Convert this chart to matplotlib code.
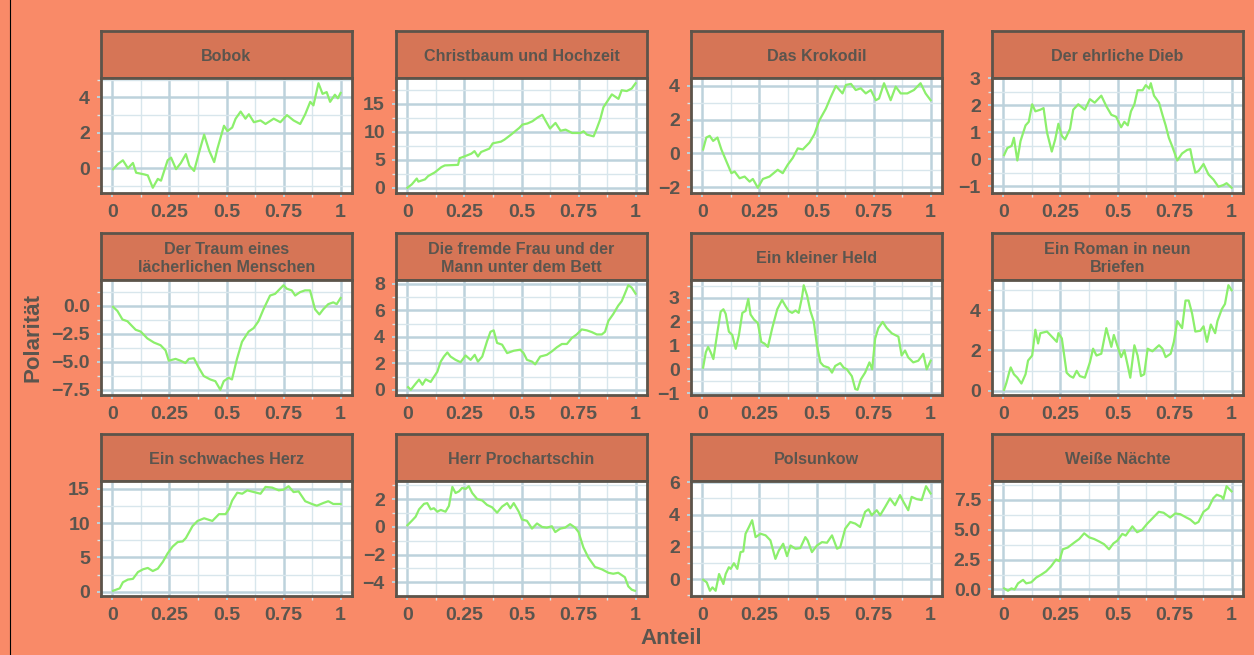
import matplotlib
matplotlib.use("Agg")
import matplotlib.pyplot as plt
from matplotlib.ticker import FixedLocator, AutoMinorLocator
from matplotlib.lines import Line2D

# Werktitel (Facetten)
titles = [
    "Bobok", "Christbaum und Hochzeit", "Das Krokodil", "Der ehrliche Dieb",
    "Der Traum eines\nlächerlichen Menschen", "Die fremde Frau und der\nMann unter dem Bett",
    "Ein kleiner Held", "Ein Roman in neun\nBriefen",
    "Ein schwaches Herz", "Herr Prochartschin", "Polsunkow", "Weiße Nächte",
]

# Anteil (x) und Polarität (y)
bobok_x = [0.003, 0.025, 0.046, 0.068, 0.09, 0.104, 0.141, 0.155, 0.177, 0.199, 0.213, 0.242, 0.257,
           0.279, 0.3, 0.322, 0.337, 0.358, 0.38, 0.402, 0.424, 0.446, 0.46, 0.489, 0.504, 0.525, 0.54,
           0.562, 0.583, 0.598, 0.62, 0.649, 0.671, 0.707, 0.736, 0.765, 0.794, 0.823, 0.845, 0.867,
           0.881, 0.903, 0.921, 0.939, 0.954, 0.975, 0.988, 1.0]
bobok_y = [-0.05, 0.25, 0.45, 0.0, 0.3, -0.25, -0.35, -0.4, -1.1, -0.6, -0.7, 0.45, 0.6, -0.05, 0.3,
           0.8, 0.15, -0.15, 0.9, 1.9, 1.0, 0.35, 1.1, 2.4, 2.1, 2.3, 2.8, 3.2, 2.8, 3.05, 2.6, 2.7,
           2.5, 2.8, 2.6, 3.0, 2.7, 2.5, 3.05, 3.75, 3.55, 4.8, 4.2, 4.3, 3.75, 4.15, 3.95, 4.25]

christbaum_x = [0.0, 0.019, 0.041, 0.048, 0.077, 0.091, 0.12, 0.149, 0.164, 0.222, 0.229, 0.243, 0.28,
                0.294, 0.309, 0.323, 0.359, 0.374, 0.41, 0.425, 0.454, 0.49, 0.504, 0.526, 0.548, 0.57,
                0.591, 0.606, 0.625, 0.649, 0.671, 0.693, 0.722, 0.758, 0.772, 0.787, 0.816, 0.83,
                0.845, 0.859, 0.896, 0.925, 0.939, 0.961, 0.983, 1.0]
christbaum_y = [0.0, 0.6, 1.65, 1.1, 1.5, 2.1, 2.75, 3.7, 4.0, 4.1, 5.3, 5.5, 6.1, 6.55, 5.6, 6.4,
                7.0, 7.95, 8.25, 8.6, 9.5, 10.7, 11.3, 11.5, 11.9, 12.55, 13.05, 11.95, 10.6, 11.6,
                10.2, 10.4, 9.8, 9.8, 10.1, 9.5, 9.2, 10.6, 12.25, 14.4, 16.7, 15.9, 17.45, 17.3,
                17.75, 18.7]

krokodil_x = [0.003, 0.017, 0.032, 0.047, 0.066, 0.083, 0.105, 0.127, 0.141, 0.163, 0.185, 0.207,
              0.221, 0.243, 0.265, 0.294, 0.33, 0.352, 0.374, 0.396, 0.418, 0.44, 0.469, 0.491, 0.512,
              0.541, 0.563, 0.585, 0.614, 0.629, 0.651, 0.672, 0.694, 0.716, 0.738, 0.76, 0.774,
              0.796, 0.825, 0.847, 0.869, 0.898, 0.927, 0.956, 0.978, 1.0]
krokodil_y = [0.24, 0.94, 1.04, 0.74, 0.94, 0.24, -0.46, -1.16, -1.06, -1.46, -1.36, -1.66, -1.5,
              -2.02, -1.5, -1.36, -0.96, -1.16, -0.66, -0.26, 0.3, 0.24, 0.64, 1.14, 1.94, 2.64, 3.34,
              3.98, 3.54, 4.04, 4.1, 3.74, 3.84, 3.54, 3.74, 3.14, 3.24, 4.14, 3.14, 3.94, 3.54, 3.54,
              3.74, 4.14, 3.54, 3.14]

dieb_x = [0.003, 0.017, 0.036, 0.046, 0.061, 0.075, 0.097, 0.111, 0.126, 0.14, 0.162, 0.176, 0.191,
          0.212, 0.227, 0.241, 0.256, 0.27, 0.292, 0.306, 0.328, 0.357, 0.379, 0.4, 0.429, 0.451, 0.473,
          0.494, 0.516, 0.53, 0.545, 0.559, 0.574, 0.588, 0.61, 0.624, 0.639, 0.646, 0.66, 0.682,
          0.697, 0.711, 0.725, 0.74, 0.762, 0.783, 0.805, 0.819, 0.827, 0.841, 0.855, 0.877, 0.899,
          0.921, 0.942, 0.964, 0.978, 1.0]
dieb_y = [0.16, 0.42, 0.5, 0.8, -0.04, 0.68, 1.26, 1.39, 2.04, 1.78, 1.84, 1.9, 1.0, 0.29, 0.74, 1.32,
          0.87, 0.74, 1.13, 1.84, 2.04, 1.84, 2.23, 2.1, 2.36, 1.97, 1.65, 1.58, 1.19, 1.39, 1.26,
          1.78, 2.04, 2.56, 2.56, 2.75, 2.62, 2.82, 2.36, 2.1, 1.65, 1.26, 0.8, 0.48, -0.04, 0.22,
          0.35, 0.38, 0.03, -0.49, -0.43, -0.17, -0.56, -0.75, -1.01, -0.95, -0.88, -1.05]

traum_x = [0.003, 0.022, 0.044, 0.066, 0.08, 0.102, 0.124, 0.153, 0.182, 0.211, 0.233, 0.247, 0.277,
           0.298, 0.32, 0.335, 0.357, 0.378, 0.4, 0.429, 0.451, 0.473, 0.488, 0.509, 0.524, 0.546,
           0.568, 0.597, 0.619, 0.64, 0.662, 0.691, 0.713, 0.735, 0.75, 0.764, 0.786, 0.801, 0.822,
           0.844, 0.866, 0.888, 0.907, 0.924, 0.946, 0.968, 0.983, 1.0]
traum_y = [-0.09, -0.46, -1.22, -1.38, -1.68, -2.14, -2.3, -2.91, -3.28, -3.52, -3.98, -4.9, -4.74,
           -4.9, -5.11, -4.74, -4.68, -5.51, -6.27, -6.58, -6.73, -7.5, -6.73, -6.43, -6.58, -4.74,
           -3.21, -2.3, -1.99, -1.38, -0.31, 0.92, 1.07, 1.53, 1.84, 1.53, 1.38, 0.92, 1.22, 1.38,
           1.38, -0.31, -0.77, -0.31, 0.15, 0.31, 0.15, 0.7]

fremde_x = [0.003, 0.015, 0.036, 0.051, 0.066, 0.08, 0.102, 0.116, 0.131, 0.146, 0.16, 0.175, 0.189,
            0.211, 0.233, 0.255, 0.277, 0.295, 0.309, 0.328, 0.349, 0.364, 0.378, 0.393, 0.415, 0.437,
            0.466, 0.495, 0.509, 0.524, 0.546, 0.56, 0.582, 0.611, 0.633, 0.655, 0.677, 0.699, 0.721,
            0.742, 0.764, 0.786, 0.808, 0.83, 0.852, 0.866, 0.881, 0.902, 0.924, 0.939, 0.953, 0.968,
            0.983, 1.0]
fremde_y = [0.2, 0.0, 0.46, 0.77, 0.38, 0.79, 0.59, 0.97, 1.36, 2.13, 2.51, 2.82, 2.51, 2.26, 2.08,
            2.59, 2.26, 2.64, 2.13, 2.51, 3.67, 4.38, 4.49, 3.54, 3.41, 2.77, 2.95, 3.03, 2.77, 2.26,
            2.13, 1.92, 2.51, 2.64, 2.9, 3.21, 3.46, 3.46, 3.92, 4.18, 4.56, 4.49, 4.36, 4.18, 4.18,
            4.38, 5.21, 5.72, 6.36, 6.69, 7.26, 7.9, 7.72, 7.26]

held_x = [0.003, 0.015, 0.025, 0.036, 0.048, 0.066, 0.08, 0.092, 0.102, 0.116, 0.131, 0.146, 0.16,
          0.175, 0.189, 0.201, 0.211, 0.226, 0.243, 0.258, 0.272, 0.287, 0.306, 0.328, 0.349, 0.364,
          0.378, 0.393, 0.408, 0.422, 0.437, 0.444, 0.459, 0.473, 0.488, 0.502, 0.517, 0.531, 0.553,
          0.568, 0.582, 0.604, 0.619, 0.633, 0.655, 0.67, 0.68, 0.694, 0.713, 0.732, 0.744, 0.757,
          0.771, 0.79, 0.808, 0.83, 0.859, 0.873, 0.888, 0.902, 0.924, 0.946, 0.968, 0.983, 1.0]
held_y = [0.07, 0.72, 0.94, 0.72, 0.43, 1.58, 2.42, 2.52, 2.33, 1.58, 1.44, 0.86, 1.44, 2.37, 2.45,
          2.95, 2.3, 2.09, 1.94, 1.15, 1.08, 0.94, 1.73, 2.52, 2.91, 2.66, 2.45, 2.37, 2.47, 2.37,
          3.05, 3.53, 3.09, 2.45, 2.01, 1.01, 0.29, 0.14, 0.07, -0.14, 0.14, 0.26, 0.07, 0.0, -0.29,
          -0.83, -0.86, -0.43, -0.14, 0.29, 0.0, 1.29, 1.73, 1.99, 1.73, 1.51, 1.37, 0.58, 0.79, 0.5,
          0.29, 0.36, 0.65, 0.0, 0.36]

roman_x = [0.003, 0.013, 0.025, 0.032, 0.046, 0.061, 0.079, 0.097, 0.108, 0.126, 0.14, 0.152, 0.162,
           0.191, 0.212, 0.234, 0.241, 0.256, 0.277, 0.292, 0.306, 0.321, 0.335, 0.357, 0.379, 0.393,
           0.408, 0.429, 0.451, 0.473, 0.484, 0.501, 0.516, 0.53, 0.545, 0.556, 0.574, 0.588, 0.603,
           0.617, 0.632, 0.653, 0.682, 0.697, 0.711, 0.733, 0.747, 0.762, 0.783, 0.798, 0.812, 0.827,
           0.841, 0.863, 0.877, 0.892, 0.909, 0.928, 0.938, 0.957, 0.971, 0.986, 1.0]
roman_y = [0.05, 0.39, 0.9, 1.16, 0.82, 0.65, 0.36, 0.82, 1.5, 1.75, 3.03, 2.35, 2.86, 2.94, 2.69,
           2.43, 2.86, 2.6, 0.9, 0.73, 0.65, 0.99, 0.73, 0.65, 1.41, 2.09, 1.75, 1.84, 3.11, 2.18,
           2.77, 2.18, 1.67, 2.01, 1.24, 0.65, 2.26, 1.75, 0.73, 0.82, 2.09, 1.96, 2.26, 2.09, 1.67,
           1.84, 2.43, 3.46, 3.11, 4.48, 4.48, 3.83, 2.94, 2.98, 3.2, 2.43, 3.29, 2.86, 3.46, 4.05,
           4.31, 5.24, 4.99]

herz_x = [0.003, 0.032, 0.046, 0.068, 0.09, 0.112, 0.134, 0.155, 0.177, 0.199, 0.221, 0.242, 0.264,
          0.286, 0.308, 0.322, 0.351, 0.373, 0.402, 0.438, 0.467, 0.496, 0.511, 0.525, 0.547, 0.569,
          0.591, 0.62, 0.649, 0.671, 0.7, 0.729, 0.75, 0.772, 0.794, 0.816, 0.845, 0.874, 0.896,
          0.925, 0.946, 0.968, 1.0]
herz_y = [0.15, 0.5, 1.39, 1.78, 1.88, 2.87, 3.27, 3.47, 3.02, 3.37, 4.36, 5.59, 6.58, 7.23, 7.33,
          7.82, 9.55, 10.3, 10.69, 10.3, 11.29, 11.29, 12.03, 13.27, 14.41, 14.26, 14.75, 14.5,
          14.26, 15.25, 15.15, 14.75, 14.85, 15.35, 14.5, 14.6, 13.17, 12.77, 12.52, 12.92, 13.17,
          12.77, 12.77]

prochartschin_x = [0.0, 0.022, 0.036, 0.051, 0.073, 0.087, 0.102, 0.116, 0.131, 0.146, 0.167, 0.182,
                   0.197, 0.211, 0.226, 0.24, 0.255, 0.269, 0.284, 0.306, 0.328, 0.349, 0.371, 0.393,
                   0.415, 0.437, 0.451, 0.466, 0.488, 0.502, 0.524, 0.546, 0.568, 0.59, 0.611, 0.633,
                   0.648, 0.67, 0.691, 0.713, 0.735, 0.75, 0.771, 0.793, 0.822, 0.852, 0.881, 0.902,
                   0.924, 0.953, 0.968, 0.983, 0.997]
prochartschin_y = [0.12, 0.49, 0.74, 1.27, 1.67, 1.72, 1.27, 1.35, 1.1, 1.23, 1.1, 1.52, 2.89, 2.45,
                   2.57, 2.82, 2.74, 2.94, 2.45, 2.01, 1.91, 1.59, 1.42, 1.03, 1.47, 1.72, 1.35, 1.72,
                   1.1, 0.54, 0.44, -0.12, 0.25, 0.0, -0.05, 0.05, -0.37, -0.12, -0.05, 0.2, -0.05,
                   -0.37, -1.47, -2.21, -2.89, -3.06, -3.31, -3.38, -3.31, -3.63, -4.29, -4.53, -4.61]

polsunkow_x = [0.003, 0.019, 0.033, 0.044, 0.058, 0.073, 0.092, 0.102, 0.116, 0.124, 0.138, 0.153,
               0.167, 0.179, 0.189, 0.204, 0.218, 0.233, 0.255, 0.277, 0.298, 0.32, 0.335, 0.354,
               0.371, 0.386, 0.408, 0.429, 0.451, 0.461, 0.48, 0.502, 0.524, 0.546, 0.568, 0.59, 0.604,
               0.626, 0.648, 0.67, 0.691, 0.713, 0.728, 0.742, 0.764, 0.779, 0.801, 0.822, 0.844,
               0.866, 0.881, 0.902, 0.917, 0.939, 0.961, 0.98, 1.0]
polsunkow_y = [-0.04, -0.21, -0.73, -0.52, -0.73, 0.31, -0.31, 0.31, 0.73, 0.63, 0.98, 0.63, 1.67,
               1.71, 2.81, 3.23, 3.65, 2.6, 2.81, 2.71, 2.4, 1.25, 1.77, 2.19, 1.42, 2.08, 1.88, 1.92,
               2.6, 2.4, 1.67, 2.08, 2.29, 2.25, 2.71, 1.88, 1.98, 3.13, 3.54, 3.44, 3.23, 4.17, 4.33,
               3.96, 4.27, 3.96, 4.48, 5.0, 4.58, 5.21, 4.79, 4.27, 5.1, 4.96, 4.9, 5.76, 5.31]

naechte_x = [0.003, 0.02, 0.035, 0.049, 0.064, 0.086, 0.1, 0.122, 0.144, 0.165, 0.187, 0.209, 0.231,
             0.245, 0.26, 0.282, 0.311, 0.332, 0.354, 0.376, 0.398, 0.419, 0.441, 0.463, 0.482, 0.499,
             0.521, 0.536, 0.565, 0.586, 0.608, 0.63, 0.652, 0.681, 0.702, 0.731, 0.753, 0.775, 0.797,
             0.819, 0.84, 0.855, 0.877, 0.898, 0.92, 0.935, 0.956, 0.964, 0.978, 1.0]
naechte_y = [0.09, -0.11, 0.09, 0.0, 0.51, 0.8, 0.51, 0.6, 1.0, 1.23, 1.51, 1.94, 2.51, 2.37, 3.36,
             3.51, 3.93, 4.22, 4.7, 4.36, 4.22, 4.02, 3.79, 3.36, 3.85, 4.08, 4.65, 4.51, 5.28, 4.79,
             4.99, 5.5, 5.93, 6.5, 6.42, 6.02, 6.36, 6.3, 6.07, 5.85, 5.5, 5.65, 6.5, 6.79, 7.64, 7.93,
             7.78, 7.56, 8.64, 8.21]

xs = [bobok_x, christbaum_x, krokodil_x, dieb_x, traum_x, fremde_x, held_x, roman_x,
      herz_x, prochartschin_x, polsunkow_x, naechte_x]
ys = [bobok_y, christbaum_y, krokodil_y, dieb_y, traum_y, fremde_y, held_y, roman_y,
      herz_y, prochartschin_y, polsunkow_y, naechte_y]

# Achsenbeschriftungen
x_ticks = [0, 0.25, 0.5, 0.75, 1]
x_labels = ["0", "0.25", "0.5", "0.75", "1"]
y_ticks = [[0, 2, 4], [0, 5, 10, 15], [-2, 0, 2, 4], [-1, 0, 1, 2, 3],
           [-7.5, -5, -2.5, 0], [0, 2, 4, 6, 8], [-1, 0, 1, 2, 3], [0, 2, 4],
           [0, 5, 10, 15], [-4, -2, 0, 2], [0, 2, 4, 6], [0, 2.5, 5, 7.5]]
y_labels = [["0", "2", "4"], ["0", "5", "10", "15"], ["−2", "0", "2", "4"], ["−1", "0", "1", "2", "3"],
            ["−7.5", "−5.0", "−2.5", "0.0"], ["0", "2", "4", "6", "8"], ["−1", "0", "1", "2", "3"],
            ["0", "2", "4"], ["0", "5", "10", "15"], ["−4", "−2", "0", "2"], ["0", "2", "4", "6"],
            ["0.0", "2.5", "5.0", "7.5"]]

# Farben
bg = "#F98A68"
strip_bg = "#D67556"
dark = "#5C544A"
text_col = "#5B554E"
grid_major = "#BDD2DC"
grid_minor = "#D8E6EC"
line_col = "#8CEF6C"

W, H = 1254, 655
plt.rcParams['font.family'] = ['Liberation Sans', 'DejaVu Sans']

fig = plt.figure(figsize=(W / 100, H / 100), dpi=100, facecolor=bg)


def px_axes(left, top, right, bottom):
    return fig.add_axes([left / W, 1 - bottom / H, (right - left) / W, (bottom - top) / H])


col_left = [101, 396, 691, 992]
panel_w = 251
strip_top = [31, 233, 434]
strip_h = 47
panel_h = 115

for i in range(12):
    r, c = divmod(i, 4)
    left = col_left[c]
    st = strip_top[r]
    pt = st + strip_h

    # Streifen mit Titel
    sax = px_axes(left, st, left + panel_w, pt)
    sax.set_facecolor(strip_bg)
    sax.set_xticks([])
    sax.set_yticks([])
    for s in sax.spines.values():
        s.set_color(dark)
        s.set_linewidth(2.0)
    sax.text(0.5, 0.46, titles[i], ha="center", va="center", fontsize=11.6, fontweight="bold",
             color=text_col, linespacing=1.2, transform=sax.transAxes)

    ax = px_axes(left, pt, left + panel_w, pt + panel_h)
    ax.set_facecolor("white")
    ax.plot(xs[i], ys[i], color=line_col, lw=1.6, zorder=3)
    ax.margins(x=0.05, y=0.05)
    ax.set_xlim(-0.05, 1.05)

    ax.xaxis.set_major_locator(FixedLocator(x_ticks))
    ax.set_xticklabels(x_labels)
    ax.yaxis.set_major_locator(FixedLocator(y_ticks[i]))
    ax.set_yticklabels(y_labels[i])
    ax.xaxis.set_minor_locator(AutoMinorLocator(2))
    ax.yaxis.set_minor_locator(AutoMinorLocator(2))

    ax.grid(which="major", color=grid_major, lw=1.8, zorder=1)
    ax.grid(which="minor", color=grid_minor, lw=1.0, zorder=1)
    ax.set_axisbelow(True)
    ax.tick_params(which="major", length=3, width=1.4, color=grid_major, labelsize=14,
                   labelcolor=text_col, pad=5)
    ax.tick_params(which="minor", length=3, width=1.0, color=grid_minor)
    for lab in ax.get_xticklabels() + ax.get_yticklabels():
        lab.set_fontweight("bold")
    for s in ax.spines.values():
        s.set_color(dark)
        s.set_linewidth(2.0)
        s.set_zorder(4)

fig.text(671 / W, 1 - 638 / H, "Anteil", ha="center", va="center", fontsize=16,
         fontweight="bold", color=text_col)
fig.text(33 / W, 1 - 338 / H, "Polarität", ha="center", va="center", rotation=90, fontsize=16,
         fontweight="bold", color=text_col)

# Rahmenlinie links
fig.add_artist(Line2D([9.5 / W, 9.5 / W], [0, 1], color="black", lw=0.8))

fig.savefig("out.png", dpi=100, facecolor=bg)
